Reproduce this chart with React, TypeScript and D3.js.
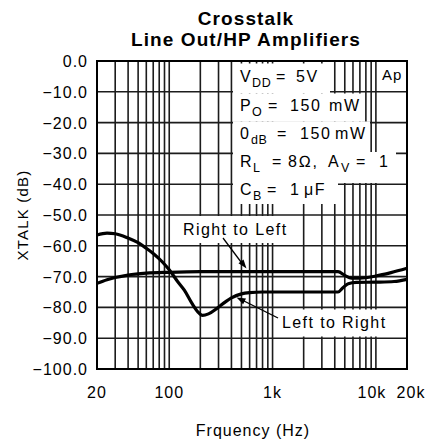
import React from "react";
import * as d3 from "d3";

// Crosstalk vs frequency, line-out / headphone amplifiers
const freqRightToLeft = [20, 25, 30, 40, 60, 100, 200, 1000, 4300, 5000, 5800, 7000, 10000, 14000, 20000];
const xtalkRightToLeft = [-72.2, -71.0, -70.3, -69.5, -68.9, -68.6, -68.4, -68.4, -68.4, -69.6, -70.5, -70.5, -69.8, -68.7, -67.3];

const freqLeftToRight = [20, 25, 30, 40, 50, 60, 70, 85, 100, 120, 140, 166, 190, 210, 240, 290, 350, 400, 500, 600, 800, 1000, 2000, 4300, 4800, 5400, 6500, 10000, 15000, 20000];
const xtalkLeftToRight = [-56.5, -55.9, -56.1, -57.5, -59.0, -60.8, -62.5, -65.1, -67.8, -71.5, -74.4, -78.7, -81.5, -82.6, -82.1, -80.3, -78.2, -76.9, -75.6, -75.2, -75.0, -75.0, -75.0, -75.0, -73.6, -72.3, -71.9, -71.8, -71.6, -70.9];

const yTickValues = [0, -10, -20, -30, -40, -50, -60, -70, -80, -90, -100];
const xTickValues = [20, 100, 1000, 10000, 20000];
const xTickText = ["20", "100", "1k", "10k", "20k"];

const W = 426;
const H = 442;
const left = 97;
const right = 407;
const top = 61;
const bottom = 369;

const FONT = "'Liberation Sans', Arial, Helvetica, sans-serif";

type Seg = { t: string; x: number; sub?: boolean };
type Row = { baseline: number; boxTop: number; boxBottom: number; boxRight: number; segs: Seg[] };

const conditionRows: Row[] = [
  { baseline: 82, boxTop: 63.5, boxBottom: 93.5, boxRight: 330,
    segs: [{ t: "V", x: 240 }, { t: "DD", x: 252, sub: true }, { t: "=", x: 276 }, { t: "5V", x: 296 }] },
  { baseline: 111, boxTop: 93.5, boxBottom: 121.5, boxRight: 362,
    segs: [{ t: "P", x: 240 }, { t: "O", x: 252, sub: true }, { t: "=", x: 268 }, { t: "150", x: 290 }, { t: "mW", x: 329 }] },
  { baseline: 139, boxTop: 121.5, boxBottom: 152, boxRight: 370,
    segs: [{ t: "0", x: 240 }, { t: "dB", x: 251, sub: true }, { t: "=", x: 277 }, { t: "150", x: 300 }, { t: "mW", x: 335 }] },
  { baseline: 167, boxTop: 152, boxBottom: 183, boxRight: 396,
    segs: [{ t: "R", x: 240 }, { t: "L", x: 253, sub: true }, { t: "=", x: 272 }, { t: "8\u2126,", x: 288 }, { t: "A", x: 328 }, { t: "V", x: 341, sub: true }, { t: "=", x: 356 }, { t: "1", x: 379 }] },
  { baseline: 195, boxTop: 183, boxBottom: 204, boxRight: 338,
    segs: [{ t: "C", x: 240 }, { t: "B", x: 253, sub: true }, { t: "=", x: 267 }, { t: "1", x: 290 }, { t: "\u03bcF", x: 304 }] },
];

function arrowHead(x1: number, y1: number, x2: number, y2: number, len = 9, half = 3.2) {
  const a = Math.atan2(y2 - y1, x2 - x1);
  const bx = x2 - len * Math.cos(a);
  const by = y2 - len * Math.sin(a);
  const px = -Math.sin(a) * half;
  const py = Math.cos(a) * half;
  return `M${x2},${y2}L${bx + px},${by + py}L${bx - px},${by - py}Z`;
}

export default function App() {
  const x = d3.scaleLog().domain([20, 20000]).range([left, right]);
  const y = d3.scaleLinear().domain([-100, 0]).range([bottom, top]);

  // vertical grid: every 1-9 step in each decade between the end frequencies
  const vGrid: number[] = [];
  for (let dec = 10; dec <= 10000; dec *= 10) {
    for (let m = 1; m <= 9; m++) {
      const f = m * dec;
      if (f > 20 && f < 20000) vGrid.push(f);
    }
  }

  const line = d3
    .line<[number, number]>()
    .x((d) => x(d[0]))
    .y((d) => y(d[1]))
    .curve(d3.curveMonotoneX);

  const r2l = line(freqRightToLeft.map((f, i) => [f, xtalkRightToLeft[i]] as [number, number])) || "";
  const l2r = line(freqLeftToRight.map((f, i) => [f, xtalkLeftToRight[i]] as [number, number])) || "";

  const gridStroke = "#1c1c1c";
  const gridW = 1.6;

  return (
    <svg width={W} height={H} style={{ display: "block", position: "absolute", left: 0, top: 0, background: "#fff" }}>
      <rect x={0} y={0} width={W} height={H} fill="#fff" />
      {/* title */}
      <g fontFamily={FONT} fontWeight="bold" fontSize={19} textAnchor="middle" letterSpacing={1.1} fill="#000">
        <text x={246} y={25}>Crosstalk</text>
        <text x={246} y={46.3}>Line Out/HP Amplifiers</text>
      </g>

      {/* grid */}
      <g stroke={gridStroke} strokeWidth={gridW}>
        {vGrid.map((f) => (
          <line key={"v" + f} x1={x(f)} x2={x(f)} y1={top} y2={bottom} />
        ))}
        {yTickValues.map((v) => (
          <line key={"h" + v} x1={left} x2={right} y1={y(v)} y2={y(v)} />
        ))}
      </g>
      <rect x={left} y={top} width={right - left} height={bottom - top} fill="none" stroke="#000" strokeWidth={2} />

      {/* condition block backgrounds */}
      {conditionRows.map((r, i) => (
        <rect key={"bg" + i} x={233} y={r.boxTop} width={r.boxRight - 233} height={r.boxBottom - r.boxTop} fill="#fff" />
      ))}
      {/* label backgrounds */}
      <rect x={178} y={216} width={114} height={27} fill="#fff" />
      <rect x={275} y={309.5} width={114} height={27} fill="#fff" />

      {/* curves */}
      <path d={r2l} fill="none" stroke="#000" strokeWidth={3.2} strokeLinejoin="round" />
      <path d={l2r} fill="none" stroke="#000" strokeWidth={3.2} strokeLinejoin="round" />

      {/* condition text */}
      <g fontFamily={FONT} fill="#000">
        {conditionRows.map((r, i) => (
          <g key={"row" + i}>
            {r.segs.map((s, j) => (
              <text key={j} x={s.x} y={s.sub ? r.baseline + 4.5 : r.baseline} fontSize={s.sub ? 12.5 : 16} letterSpacing={s.sub ? 0.6 : 1.6}>
                {s.t}
              </text>
            ))}
          </g>
        ))}
        <text x={382} y={80} fontSize={15} letterSpacing={1}>Ap</text>
      </g>

      {/* series labels with arrows */}
      <g fontFamily={FONT} fontSize={16} letterSpacing={1.4} fill="#000">
        <text x={183} y={235}>Right to Left</text>
        <text x={282} y={328}>Left to Right</text>
      </g>
      <g stroke="#000" strokeWidth={1.3}>
        <line x1={223} y1={238} x2={241} y2={262} />
        <line x1={278} y1={318} x2={243} y2={300.5} />
      </g>
      <path d={arrowHead(223, 238, 246.5, 268.5)} fill="#000" />
      <path d={arrowHead(278, 318, 236.5, 297.5)} fill="#000" />

      {/* y axis */}
      <g fontFamily={FONT} fontSize={16} letterSpacing={1} textAnchor="end" fill="#000">
        {yTickValues.map((v) => (
          <text key={"yt" + v} x={88} y={y(v) + 6}>
            {v === 0 ? "0.0" : "\u2212" + Math.abs(v).toFixed(1)}
          </text>
        ))}
      </g>
      <text
        transform={`translate(28,${(top + bottom) / 2}) rotate(-90)`}
        textAnchor="middle"
        fontFamily={FONT}
        fontSize={15}
        letterSpacing={1.2}
        fill="#000"
      >
        XTALK (dB)
      </text>

      {/* x axis */}
      <g fontFamily={FONT} fontSize={16} letterSpacing={1} textAnchor="middle" fill="#000">
        {xTickValues.map((f, i) => (
          <text key={"xt" + f} x={x(f) + (i === 3 ? -4 : i === 4 ? 4 : 0)} y={398}>
            {xTickText[i]}
          </text>
        ))}
      </g>
      <text x={253} y={436} textAnchor="middle" fontFamily={FONT} fontSize={16} letterSpacing={1} fill="#000">
        Frquency (Hz)
      </text>
    </svg>
  );
}
